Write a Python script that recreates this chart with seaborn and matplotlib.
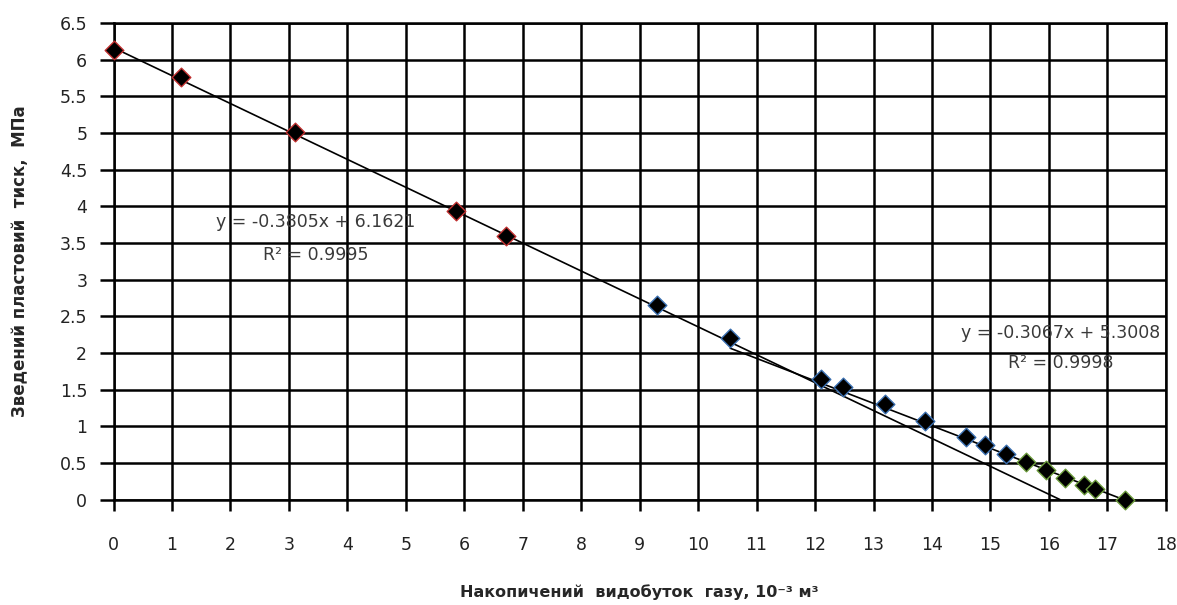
import numpy as np
import pandas as pd
import matplotlib
matplotlib.use("Agg")
import matplotlib.pyplot as plt
import seaborn as sns

# measured points, split in the three groups of the original chart
x_red = [0.0, 1.15, 3.1, 5.85, 6.72]
y_red = [6.13, 5.76, 5.02, 3.93, 3.60]
x_blue = [9.3, 10.55, 12.1, 12.48, 13.2, 13.88, 14.58, 14.9, 15.27]
y_blue = [2.65, 2.20, 1.65, 1.54, 1.30, 1.07, 0.85, 0.74, 0.63]
x_green = [15.6, 15.95, 16.28, 16.6, 16.78, 17.3]
y_green = [0.52, 0.41, 0.30, 0.20, 0.15, 0.0]

# trendlines as written on the chart
fit1 = (-0.3805, 6.1621)
fit1_x = [0.0, 16.19]
fit2 = (-0.3067, 5.3008)
fit2_x = [10.55, 17.28]

x_ticks = list(range(0, 19))
y_ticks = [0, 0.5, 1, 1.5, 2, 2.5, 3, 3.5, 4, 4.5, 5, 5.5, 6, 6.5]

sns.set_style("white")
plt.rcParams['font.family'] = ['DejaVu Sans']

fig = plt.figure(figsize=(11.77, 6.05), dpi=100)
ax = fig.add_axes([0.0965, 0.174, 0.894, 0.788])

groups = [(x_red, y_red, "#c03030"), (x_blue, y_blue, "#3a6fb0"), (x_green, y_green, "#6a9a3a")]
for xs, ys, edge in groups:
    df = pd.DataFrame({"x": xs, "y": ys})
    sns.scatterplot(data=df, x="x", y="y", marker="D", s=90, color="black",
                    edgecolor=edge, linewidth=1.0, ax=ax, zorder=4, clip_on=False)

for (k, b), xr in [(fit1, fit1_x), (fit2, fit2_x)]:
    line = pd.DataFrame({"x": xr, "y": [k * v + b for v in xr]})
    sns.lineplot(data=line, x="x", y="y", color="black", linewidth=1.2, ax=ax, zorder=3)

eq_style = dict(ha="center", va="center", fontsize=12.5, color="#3a3a3a", zorder=5)
ax.text(3.45, 3.78, "y = -0.3805x + 6.1621", **eq_style)
ax.text(3.45, 3.33, "R² = 0.9995", **eq_style)
ax.text(16.2, 2.27, "y = -0.3067x + 5.3008", **eq_style)
ax.text(16.2, 1.87, "R² = 0.9998", **eq_style)

ax.set_xlim(0, 18)
ax.set_ylim(0, 6.5)
ax.set_xticks(x_ticks)
ax.set_yticks(y_ticks)
ax.set_yticklabels([f"{v:g}" for v in y_ticks])
ax.grid(True, color="black", linewidth=1.8)
for side in ax.spines.values():
    side.set_color("black")
    side.set_linewidth(1.8)
ax.tick_params(axis="x", bottom=True, direction="out", length=8, width=1.8, pad=18,
               labelsize=12.5, labelcolor="#222222", color="black")
ax.tick_params(axis="y", left=True, direction="out", length=10, width=1.8, pad=9,
               labelsize=12.5, labelcolor="#222222", color="black")

ax.set_xlabel("Накопичений  видобуток  газу, 10⁻³ м³", fontsize=11.5, fontweight="bold", labelpad=22)
ax.set_ylabel("Зведений пластовий  тиск,  МПа", fontsize=12, fontweight="bold", labelpad=22)

fig.savefig("out.png", dpi=100)
